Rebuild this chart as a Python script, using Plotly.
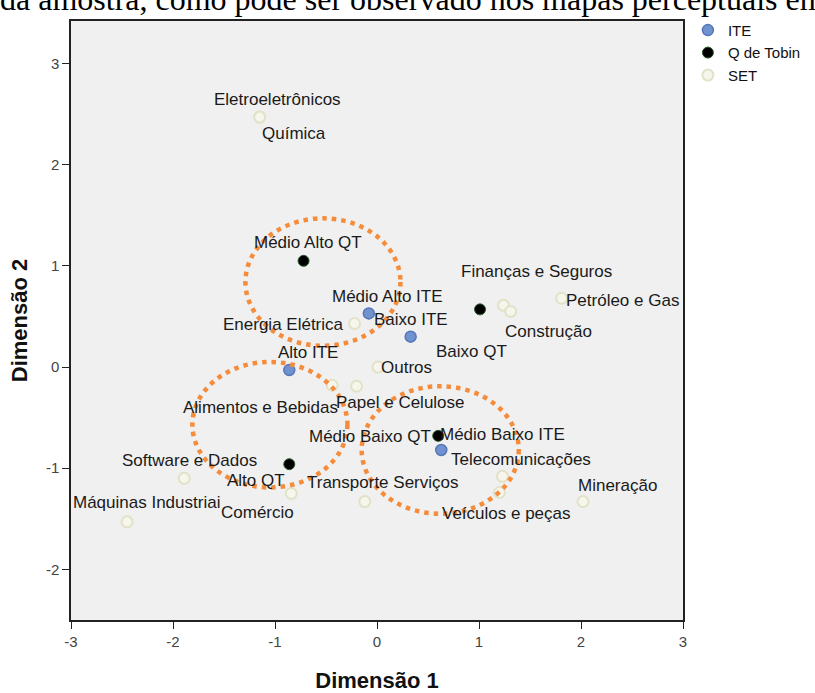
import plotly.graph_objects as go

# ---- data ----
ite_names = ["Médio Alto ITE", "Baixo ITE", "Alto ITE", "Médio Baixo ITE"]
ite_x = [-0.08, 0.33, -0.86, 0.63]
ite_y = [0.53, 0.30, -0.03, -0.82]

q_names = ["Médio Alto QT", "Baixo QT", "Médio Baixo QT", "Alto QT"]
q_x = [-0.72, 1.01, 0.60, -0.86]
q_y = [1.05, 0.57, -0.68, -0.96]

set_names = ["Eletroeletrônicos", "Química", "Finanças e Seguros", "Construção",
             "Petróleo e Gas", "Energia Elétrica", "Outros", "Papel e Celulose",
             "Alimentos e Bebidas", "Telecomunicações", "Software e Dados",
             "Máquinas Industriai", "Comércio", "Transporte Serviços",
             "Mineração", "Veículos e peças"]
set_x = [-1.15, -1.15, 1.24, 1.31, 1.81, -0.22, 0.01, -0.20, -0.44, 1.23,
         -1.89, -2.45, -0.84, -0.12, 2.02, 1.20]
set_y = [2.47, 2.47, 0.61, 0.55, 0.68, 0.43, 0.00, -0.19, -0.18, -1.08,
         -1.10, -1.53, -1.25, -1.33, -1.33, -1.24]

x_ticks = [-3, -2, -1, 0, 1, 2, 3]
y_ticks = [-2, -1, 0, 1, 2, 3]

# highlighted groups (centre x, centre y, radius x, radius y)
circ_cx = [-0.53, -1.05, 0.62]
circ_cy = [0.84, -0.57, -0.82]
circ_rx = [0.76, 0.76, 0.77]
circ_ry = [0.63, 0.62, 0.63]

# label pixel offsets (dx, dy) relative to each point
label_offsets = {
    "Médio Alto ITE": (19, 17), "Baixo ITE": (0, 17), "Alto ITE": (19, 18),
    "Médio Baixo ITE": (61, 16),
    "Médio Alto QT": (4, 18), "Baixo QT": (-9, -42), "Médio Baixo QT": (-68, -1),
    "Alto QT": (-33, -16),
    "Eletroeletrônicos": (18, 18), "Química": (34, -16), "Finanças e Seguros": (33, 34),
    "Construção": (38, -20), "Petróleo e Gas": (61, -2), "Energia Elétrica": (-71, -1),
    "Outros": (28, 0), "Papel e Celulose": (44, -16), "Alimentos e Bebidas": (-72, -22),
    "Telecomunicações": (19, 17), "Software e Dados": (5, 18),
    "Máquinas Industriai": (19, 19), "Comércio": (-34, -19),
    "Transporte Serviços": (18, 19), "Mineração": (34, 16), "Veículos e peças": (7, -21),
}

FONT = "Liberation Sans, Arial, sans-serif"

fig = go.Figure()
fig.add_trace(go.Scatter(
    x=set_x, y=set_y, mode="markers", name="SET", legendrank=3,
    marker=dict(size=11, color="#F6F6EC", line=dict(color="#E2E2C8", width=2)),
))
fig.add_trace(go.Scatter(
    x=ite_x, y=ite_y, mode="markers", name="ITE", legendrank=1,
    marker=dict(size=11, color="#7093CF", line=dict(color="#5676B8", width=1.5)),
))
fig.add_trace(go.Scatter(
    x=q_x, y=q_y, mode="markers", name="Q de Tobin", legendrank=2,
    marker=dict(size=11, color="#000000", line=dict(color="#2C5A2C", width=1)),
))

annotations = []
for names, xs, ys in [(ite_names, ite_x, ite_y), (q_names, q_x, q_y), (set_names, set_x, set_y)]:
    for n, xv, yv in zip(names, xs, ys):
        dx, dy = label_offsets[n]
        annotations.append(dict(
            x=xv, y=yv, xref="x", yref="y", text=n, showarrow=False,
            xshift=dx, yshift=dy, xanchor="center", yanchor="middle",
            font=dict(family=FONT, size=17, color="#1a1a1a"),
        ))

annotations.append(dict(
    x=-0.12, y=1.0, xref="paper", yref="paper", xanchor="left", yanchor="bottom",
    text="da amostra, como pode ser observado nos mapas perceptuais em",
    showarrow=False, font=dict(family="Liberation Serif, Times New Roman, serif", size=32, color="#000"),
    yshift=2,
))

shapes = []
for cx, cy, rx, ry in zip(circ_cx, circ_cy, circ_rx, circ_ry):
    shapes.append(dict(
        type="circle", xref="x", yref="y",
        x0=cx - rx, x1=cx + rx, y0=cy - ry, y1=cy + ry,
        line=dict(color="#F58C3C", width=4.5, dash="4.5px,5px"),
        layer="above",
    ))

fig.update_layout(
    width=815, height=693,
    margin=dict(l=71, r=132, t=21, b=73, autoexpand=False),
    paper_bgcolor="white", plot_bgcolor="#F0F0F0",
    font=dict(family=FONT, size=15, color="#333"),
    showlegend=True,
    legend=dict(x=1.008, y=1.012, xanchor="left", yanchor="top",
                font=dict(family=FONT, size=15, color="#111"),
                bgcolor="white", tracegroupgap=0, itemwidth=30),
    annotations=annotations, shapes=shapes,
)
fig.update_xaxes(
    range=[-3, 3], tickvals=x_ticks, ticktext=[str(v) for v in x_ticks],
    showgrid=False, zeroline=False, showline=True, linecolor="#222", linewidth=1.5,
    mirror=True, ticks="outside", ticklen=7, tickcolor="#222",
    tickfont=dict(size=15, color="#444"),
    title=dict(text="<b>Dimensão 1</b>", font=dict(size=22, color="#111"), standoff=24),
)
fig.update_yaxes(
    range=[-2.5, 3.42], tickvals=y_ticks, ticktext=[str(v) for v in y_ticks],
    showgrid=False, zeroline=False, showline=True, linecolor="#222", linewidth=1.5,
    mirror=True, ticks="outside", ticklen=7, tickcolor="#222",
    tickfont=dict(size=15, color="#444"),
    title=dict(text="<b>Dimensão 2</b>", font=dict(size=22, color="#111"), standoff=12),
)

fig.write_html("out.html", config={"displayModeBar": False},
               post_script="document.body.style.margin='0';document.body.style.overflow='hidden';")
